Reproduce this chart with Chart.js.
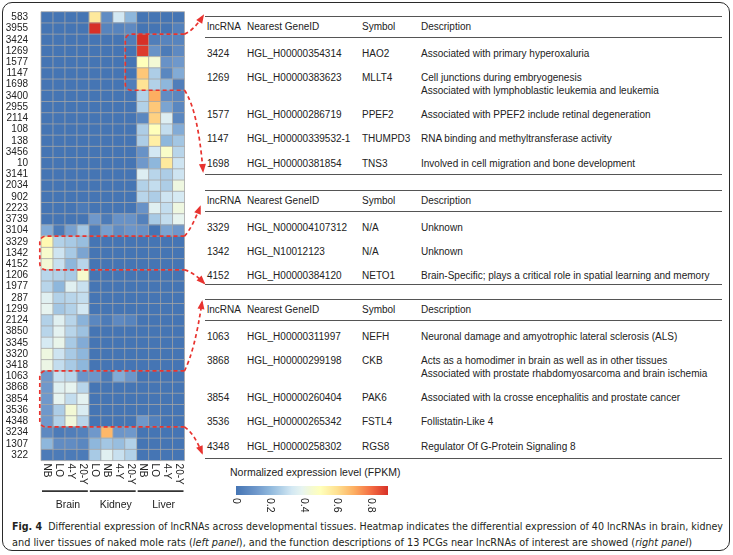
<!DOCTYPE html>
<html>
<head>
<meta charset="utf-8">
<script src="https://cdn.jsdelivr.net/npm/chart.js@4.4.1/dist/chart.umd.min.js"></script>
<style>
  body { margin: 0; width: 733px; height: 555px; position: relative; overflow: hidden; background: #fff;
         font-family: "Liberation Sans", Arial, sans-serif; color: #222; }
  #frame { position: absolute; left: 2px; top: 2px; width: 726px; height: 547px; border: 1.5px solid #2a2a2a; border-radius: 10px; }
  #heat { position: absolute; left: 0; top: 0; z-index: 2; pointer-events: none; }
  #bar { position: absolute; left: 226px; top: 479px; }
  .cell { position: absolute; font-size: 10px; line-height: 13px; white-space: pre; }
  .rule { position: absolute; left: 205px; width: 517px; height: 0; border-top: 1.2px solid #555; }
  #cbTitle { position: absolute; left: 230px; top: 466px; width: 170px; text-align: center; font-size: 10.5px; white-space: nowrap; }
  .cap { position: absolute; left: 12px; font-family: "Liberation Sans Narrow", "DejaVu Sans Condensed", sans-serif;
         font-size: 11px; white-space: nowrap; transform-origin: 0 50%; color: #231f20; }
</style>
</head>
<body>
<div id="frame"></div>
<div id="tables"></div>
<div id="cbTitle">Normalized expression level (FPKM)</div>
<canvas id="bar" width="180" height="40"></canvas>
<canvas id="heat" width="733" height="555"></canvas>
<div class="cap" id="cap1" style="top:520px"><b>Fig. 4</b>&nbsp; Differential expression of lncRNAs across developmental tissues. Heatmap indicates the differential expression of 40 lncRNAs in brain, kidney</div>
<div class="cap" id="cap2" style="top:536px">and liver tissues of naked mole rats (<i>left panel</i>), and the function descriptions of 13 PCGs near lncRNAs of interest are showed (<i>right panel</i>)</div>
<script>
// --- DATOS DEL HEATMAP ---
const rowIds = ['583', '3955', '3424', '1269', '1577', '1147', '1698', '3400', '2955', '2114',
  '108', '138', '3456', '10', '3141', '2034', '902', '2223', '3739', '3104',
  '3329', '1342', '4152', '1206', '1977', '287', '1299', '2124', '3850', '3345',
  '3320', '3418', '1063', '3868', '3854', '3536', '4348', '3234', '1307', '322'];
const columnLabels = ['NB', 'LO', '4-Y', '20-Y', 'LO', 'NB', '4-Y', '20-Y', 'NB', 'LO', '4-Y', '20-Y'];
const tissueGroups = ['Brain', 'Kidney', 'Liver'];

const brainNB = [0, 0, 0, 0, 0, 0, 0, 0, 0, 0, 0, 0, 0, 0, 0, 0, 0, 0, 0, .17,
  .52, .46, .44, .28, .28, .37, .39, .27, .28, .34, .42, .41, .12, .12, .12, .12, .12, .07, .2, .02];
const brainLO = [0, 0, 0, 0, 0, 0, 0, 0, 0, 0, 0, 0, 0, 0, 0, 0, 0, 0, 0, .02,
  .27, .32, .31, .27, .2, .27, .24, .37, .38, .4, .32, .3, .31, .37, .39, .26, .27, .02, .08, .02];
const brain4Y = [0, 0, 0, 0, 0, 0, 0, 0, 0, 0, 0, 0, 0, 0, 0, 0, 0, 0, 0, .14,
  .25, .25, .2, .25, .37, .28, .27, .28, .28, .25, .25, .25, .28, .39, .3, .44, .43, .03, .08, .02];
const brain20Y = [0, 0, 0, 0, 0, 0, 0, 0, 0, 0, 0, 0, 0, 0, 0, 0, 0, .02, 0, .24,
  .22, .15, .28, .46, .31, .3, .33, .19, .23, .17, .2, .2, .11, .28, .38, .35, .28, .04, .06, .02];
const kidneyLO = [.57, .9, 0, 0, 0, 0, 0, 0, 0, 0, 0, 0, 0, 0, 0, 0, 0, 0, .12, .02,
  0, 0, 0, 0, 0, 0, 0, .06, 0, 0, 0, 0, .11, 0, 0, 0, 0, .12, .2, .25];
const kidneyNB = [.08, .05, 0, 0, 0, 0, 0, 0, 0, 0, 0, 0, 0, 0, 0, 0, 0, 0, .02, .14,
  0, 0, 0, 0, 0, 0, 0, .02, 0, 0, 0, 0, .02, 0, 0, 0, 0, .68, .24, .37];
const kidney4Y = [.33, .05, 0, 0, 0, 0, 0, 0, 0, 0, 0, 0, 0, 0, 0, 0, 0, 0, .1, .08,
  0, 0, 0, 0, 0, 0, 0, .07, 0, 0, 0, 0, .17, 0, 0, 0, 0, .11, .22, .31];
const kidney20Y = [.2, .07, .03, 0, 0, 0, .03, 0, 0, 0, 0, 0, 0, 0, 0, 0, 0, 0, .1, .11,
  0, 0, 0, 0, 0, 0, 0, .05, 0, 0, 0, 0, .11, 0, 0, 0, 0, .12, .27, .27];
const liverNB = [0, 0, .9, .88, .5, .65, .59, .27, .27, .06, .26, .26, .1, .12, .36, .27, .28, .1, .04, .1,
  0, 0, 0, 0, 0, 0, 0, 0, 0, 0, 0, 0, 0, 0, 0, 0, .12, 0, 0, 0];
const liverLO = [0, 0, .03, .1, .44, .26, .27, .7, .65, .63, .5, .55, .33, .2, .28, .3, .26, .37, .25, 0,
  0, 0, 0, 0, 0, 0, 0, 0, 0, 0, 0, 0, 0, 0, 0, 0, .04, 0, 0, 0];
const liver4Y = [0, 0, .05, .02, .1, .06, .2, .08, .15, .36, .3, .2, .47, .57, .26, .26, .32, .3, .3, .15,
  0, 0, 0, 0, 0, 0, 0, 0, 0, 0, 0, 0, 0, 0, 0, 0, 0, 0, 0, 0];
const liver20Y = [0, .04, .05, .07, .12, .17, .03, .06, .06, .06, .17, .24, .28, .32, .32, .42, .34, .42, .39, .12,
  0, 0, 0, 0, 0, 0, 0, 0, 0, 0, 0, 0, 0, 0, 0, 0, 0, 0, 0, 0];
const heatColumns = [brainNB, brainLO, brain4Y, brain20Y, kidneyLO, kidneyNB, kidney4Y, kidney20Y,
  liverNB, liverLO, liver4Y, liver20Y];

// filas resaltadas (primera, última) y columna donde empieza el recuadro
const highlightFirst = [2, 20, 32];
const highlightLast = [6, 22, 36];
const highlightFromCol = [7.05, -0.1, -0.1];

// escala de color
const colorbarTicks = [0, 0.2, 0.4, 0.6, 0.8];
const colorbarMax = 0.9;
const colorStops = [0, 0.12, 0.2, 0.27, 0.33, 0.39, 0.45, 0.5, 0.6, 0.7, 0.8, 0.9];
const colorHex = ['#4575b4', '#6f98cb', '#8eb7dc', '#b2d1e8', '#d3e8f3', '#e7f4f0', '#f5fad0', '#ffffbb',
  '#fee090', '#fdae61', '#f46d43', '#d73027'];

// --- TABLAS ---
const tableHeader = ['lncRNA', 'Nearest GeneID', 'Symbol', 'Description'];
const t1Ids = ['3424', '1269', '1577', '1147', '1698'];
const t1Genes = ['HGL_H00000354314', 'HGL_H00000383623', 'HGL_H00000286719', 'HGL_H00000339532-1', 'HGL_H00000381854'];
const t1Symbols = ['HAO2', 'MLLT4', 'PPEF2', 'THUMPD3', 'TNS3'];
const t1Desc = ['Associated with primary hyperoxaluria',
  'Cell junctions during embryogenesis\nAssociated with lymphoblastic leukemia and leukemia',
  'Associated with PPEF2 include retinal degeneration',
  'RNA binding and methyltransferase activity',
  'Involved in cell migration and bone development'];
const t2Ids = ['3329', '1342', '4152'];
const t2Genes = ['HGL_N000004107312', 'HGL_N10012123', 'HGL_H00000384120'];
const t2Symbols = ['N/A', 'N/A', 'NETO1'];
const t2Desc = ['Unknown', 'Unknown', 'Brain-Specific; plays a critical role in spatial learning and memory'];
const t3Ids = ['1063', '3868', '3854', '3536', '4348'];
const t3Genes = ['HGL_H00000311997', 'HGL_H00000299198', 'HGL_H00000260404', 'HGL_H00000265342', 'HGL_H00000258302'];
const t3Symbols = ['NEFH', 'CKB', 'PAK6', 'FSTL4', 'RGS8'];
const t3Desc = ['Neuronal damage and amyotrophic lateral sclerosis (ALS)',
  'Acts as a homodimer in brain as well as in other tissues\nAssociated with prostate rhabdomyosarcoma and brain ischemia',
  'Associated with la crosse encephalitis and prostate cancer',
  'Follistatin-Like 4',
  'Regulator Of G-Protein Signaling 8'];

const colX = [207, 247, 362, 421];
const tablesEl = document.getElementById('tables');

function addEl(cls, left, top, text) {
  const el = document.createElement('div');
  el.className = cls;
  el.style.left = left + 'px';
  el.style.top = top + 'px';
  if (text !== undefined) el.textContent = text;
  tablesEl.appendChild(el);
  return el;
}

function buildTable(top, bottomGap, ids, genes, symbols, descs) {
  addEl('rule', 205, top);
  tableHeader.forEach((h, k) => addEl('cell', colX[k], top + 4, h));
  addEl('rule', 205, top + 21);
  let center = top + 21 + 16;
  ids.forEach((id, i) => {
    const lines = descs[i].split('\n').length;
    [id, genes[i], symbols[i], descs[i]].forEach((t, k) => addEl('cell', colX[k], center - 6.5, t));
    center += 13 * (lines - 1);
    if (i < ids.length - 1) center += 24.3;
  });
  addEl('rule', 205, center + bottomGap);
}
buildTable(16, 11, t1Ids, t1Genes, t1Symbols, t1Desc);
buildTable(190, 8, t2Ids, t2Genes, t2Symbols, t2Desc);
buildTable(299, 12, t3Ids, t3Genes, t3Symbols, t3Desc);

// --- COLORES ---
function hexToRgb(h) { return [1, 3, 5].map(i => parseInt(h.slice(i, i + 2), 16)); }
function colorAt(v) {
  if (v <= colorStops[0]) return colorHex[0];
  for (let k = 1; k < colorStops.length; k++) {
    if (v <= colorStops[k]) {
      const t = (v - colorStops[k - 1]) / (colorStops[k] - colorStops[k - 1]);
      const a = hexToRgb(colorHex[k - 1]), b = hexToRgb(colorHex[k]);
      return `rgb(${a.map((c, i) => Math.round(c + (b[i] - c) * t)).join(',')})`;
    }
  }
  return colorHex[colorHex.length - 1];
}

// --- HEATMAP ---
const RED = '#e8332f';

function arrow(ctx, sx, sy, cx, cy, ex, ey) {
  ctx.setLineDash([4, 3]);
  ctx.beginPath();
  ctx.moveTo(sx, sy);
  ctx.quadraticCurveTo(cx, cy, ex, ey);
  ctx.stroke();
  ctx.setLineDash([]);
  const ang = Math.atan2(ey - cy, ex - cx);
  ctx.beginPath();
  ctx.moveTo(ex + 2 * Math.cos(ang), ey + 2 * Math.sin(ang));
  ctx.lineTo(ex - 7 * Math.cos(ang) + 3.5 * Math.sin(ang), ey - 7 * Math.sin(ang) - 3.5 * Math.cos(ang));
  ctx.lineTo(ex - 7 * Math.cos(ang) - 3.5 * Math.sin(ang), ey - 7 * Math.sin(ang) + 3.5 * Math.cos(ang));
  ctx.closePath();
  ctx.fill();
}

// destinos de las flechas en la página: [control x, control y, fin x, fin y]
const arrowTop = [[194, 30, 203, 16], [192, 228, 200, 207], [195, 350, 202, 302]];
const arrowBottom = [[198, 110, 203, 171], [193, 272, 204, 283], [194, 433, 202, 453]];

const heatOverlay = {
  id: 'heatOverlay',
  afterDatasetsDraw(chart) {
    const { ctx, chartArea: a, scales: { x, y } } = chart;
    ctx.save();
    // bordes de celdas
    ctx.strokeStyle = '#a4a4a4';
    ctx.lineWidth = 0.8;
    ctx.beginPath();
    for (let j = 0; j <= columnLabels.length; j++) {
      const px = x.getPixelForValue(j);
      ctx.moveTo(px, a.top); ctx.lineTo(px, a.bottom);
    }
    for (let i = 0; i <= rowIds.length; i++) {
      const py = y.getPixelForValue(i - 0.5);
      ctx.moveTo(a.left, py); ctx.lineTo(a.right, py);
    }
    ctx.stroke();

    // etiquetas de columnas (rotadas)
    ctx.fillStyle = '#222';
    ctx.font = '10px "Liberation Sans", Arial, sans-serif';
    ctx.textAlign = 'left';
    ctx.textBaseline = 'middle';
    columnLabels.forEach((lab, j) => {
      ctx.save();
      ctx.translate(x.getPixelForValue(j + 0.5), a.bottom + 3);
      ctx.rotate(Math.PI / 2);
      ctx.fillText(lab, 0, 0);
      ctx.restore();
    });

    // grupos de tejidos
    ctx.strokeStyle = '#333';
    ctx.lineWidth = 1.6;
    ctx.textAlign = 'center';
    ctx.font = '10.5px "Liberation Sans", Arial, sans-serif';
    tissueGroups.forEach((g, k) => {
      const x0 = x.getPixelForValue(k * 4) + 1, x1 = x.getPixelForValue(k * 4 + 4) - 1;
      ctx.beginPath();
      ctx.moveTo(x0, a.bottom + 30.5); ctx.lineTo(x1, a.bottom + 30.5);
      ctx.stroke();
      ctx.fillText(g, (x0 + x1) / 2 + 3, a.bottom + 45);
    });

    // recuadros discontinuos y flechas
    ctx.strokeStyle = RED;
    ctx.fillStyle = RED;
    ctx.lineWidth = 1.7;
    highlightFirst.forEach((r0, k) => {
      const top = y.getPixelForValue(r0 - 0.5), bot = y.getPixelForValue(highlightLast[k] + 0.5);
      const left = x.getPixelForValue(highlightFromCol[k]), right = a.right, rad = 6;
      ctx.setLineDash([4, 3]);
      ctx.beginPath();
      ctx.moveTo(right, top);
      ctx.lineTo(left + rad, top);
      ctx.arcTo(left, top, left, top + rad, rad);
      ctx.lineTo(left, bot - rad);
      ctx.arcTo(left, bot, left + rad, bot, rad);
      ctx.lineTo(right, bot);
      ctx.stroke();
      const t = arrowTop[k], b = arrowBottom[k];
      arrow(ctx, right, top, t[0], t[1], t[2], t[3]);
      arrow(ctx, right, bot, b[0], b[1], b[2], b[3]);
    });
    ctx.restore();
  }
};

new Chart(document.getElementById('heat'), {
  type: 'bar',
  data: {
    labels: rowIds,
    datasets: heatColumns.map((col, j) => ({
      label: columnLabels[j],
      data: col.map(() => 1),
      backgroundColor: col.map(v => colorAt(v)),
      borderWidth: 0,
      barPercentage: 1,
      categoryPercentage: 1
    }))
  },
  options: {
    indexAxis: 'y',
    responsive: false,
    animation: false,
    layout: { padding: { left: 0, top: 11.7, right: 548.5, bottom: 94.4 } },
    scales: {
      x: { stacked: true, min: 0, max: 12, display: false },
      y: {
        stacked: true,
        grid: { display: false },
        border: { display: false },
        ticks: { color: '#222', font: { size: 10, family: '"Liberation Sans", Arial, sans-serif' }, padding: 5, autoSkip: false },
        afterFit(scale) { scale.width = 41; }
      }
    },
    plugins: { legend: { display: false }, tooltip: { enabled: false } }
  },
  plugins: [heatOverlay]
});

// --- BARRA DE COLOR ---
const barTicks = {
  id: 'barTicks',
  afterDraw(chart) {
    const { ctx, chartArea: a, scales: { x } } = chart;
    ctx.save();
    ctx.fillStyle = '#222';
    ctx.font = '10.5px "Liberation Sans", Arial, sans-serif';
    ctx.textAlign = 'left';
    ctx.textBaseline = 'middle';
    colorbarTicks.forEach(t => {
      ctx.save();
      ctx.translate(x.getPixelForValue(t), a.bottom + 3);
      ctx.rotate(Math.PI / 2);
      ctx.fillText(String(t), 0, 0);
      ctx.restore();
    });
    ctx.restore();
  }
};

new Chart(document.getElementById('bar'), {
  type: 'bar',
  data: {
    labels: ['FPKM'],
    datasets: [{
      data: [[0, colorbarMax]],
      borderWidth: 0,
      barPercentage: 1,
      categoryPercentage: 1,
      backgroundColor(context) {
        const { chart } = context;
        if (!chart.chartArea) return colorHex[0];
        const x = chart.scales.x;
        const g = chart.ctx.createLinearGradient(x.getPixelForValue(0), 0, x.getPixelForValue(colorbarMax), 0);
        colorStops.forEach((s, k) => g.addColorStop(s / colorbarMax, colorHex[k]));
        return g;
      }
    }]
  },
  options: {
    indexAxis: 'y',
    responsive: false,
    animation: false,
    layout: { padding: { left: 10, right: 18, top: 7, bottom: 24 } },
    scales: {
      x: { min: 0, max: colorbarMax, display: false },
      y: { display: false }
    },
    plugins: { legend: { display: false }, tooltip: { enabled: false } }
  },
  plugins: [barTicks]
});

// ajustar el ancho del pie de figura
[['cap1', 711], ['cap2', 680]].forEach(([id, w]) => {
  const el = document.getElementById(id);
  const natural = el.getBoundingClientRect().width;
  el.style.transform = `scaleX(${w / natural})`;
});
</script>
</body>
</html>
